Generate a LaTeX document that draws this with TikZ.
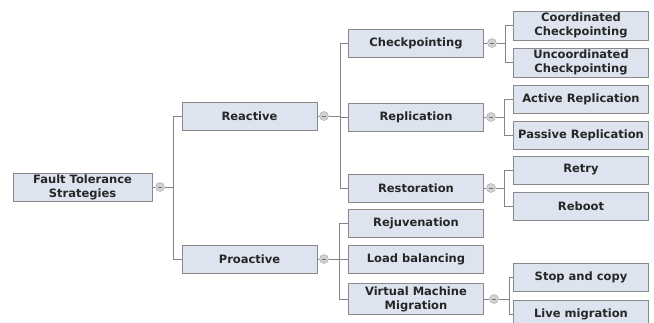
\documentclass[tikz,border=0pt]{standalone}
\usepackage{fontspec}
\setmainfont{DejaVu Sans}
\usetikzlibrary{positioning}

\definecolor{boxfill}{HTML}{DEE4EF}
\definecolor{boxline}{HTML}{8A8A8A}
\definecolor{wirecol}{HTML}{858585}
\definecolor{labelcol}{HTML}{262626}

\tikzset{
  ftbox/.style={draw=boxline, fill=boxfill, line width=1pt, minimum width=135pt,
    minimum height=28pt, inner sep=0pt, align=center, text=labelcol,
    font=\fontsize{11.5}{14}\selectfont\bfseries},
  fold/.style={circle, draw=gray!70, fill=gray!35, minimum size=9pt, inner sep=0pt,
    path picture={\draw[gray!90!black, line width=0.8pt]
      ([xshift=-2.2pt]path picture bounding box.center) -- ([xshift=2.2pt]path picture bounding box.center);}},
  wire/.style={draw=wirecol, line width=0.8pt}
}

\begin{document}
\begin{tikzpicture}[x=1pt, y=-1pt]
            \clip (0, 0) rectangle (654, 322);

            \node[ftbox, minimum width=139pt] (root) at (82.5, 187) {Fault Tolerance\\Strategies};
            \node[ftbox] (reactive) at (249.5, 116) {Reactive};
            \node[ftbox] (proactive) at (249.5, 259) {Proactive};
            \node[ftbox] (checkpointing) at (416, 43) {Checkpointing};
            \node[ftbox] (replication) at (416, 117) {Replication};
            \node[ftbox] (restoration) at (416, 188) {Restoration};
            \node[ftbox] (rejuvenation) at (416, 223) {Rejuvenation};
            \node[ftbox] (loadbalancing) at (416, 259) {Load balancing};
            \node[ftbox, minimum height=31pt] (vmmigration) at (416, 299) {Virtual Machine\\Migration};
            \node[ftbox, minimum height=29pt] (coordinated) at (581, 25.5) {Coordinated\\Checkpointing};
            \node[ftbox, minimum height=29pt] (uncoordinated) at (581, 62.5) {Uncoordinated\\Checkpointing};
            \node[ftbox] (activerep) at (581, 99) {Active Replication};
            \node[ftbox] (passiverep) at (581, 135) {Passive Replication};
            \node[ftbox] (retry) at (581, 170) {Retry};
            \node[ftbox] (reboot) at (581, 206) {Reboot};
            \node[ftbox] (stopcopy) at (581, 277) {Stop and copy};
            \node[ftbox] (livemigration) at (581, 314) {Live migration};

            \node[fold] (rootfold) at (160, 187) {};
            \node[fold] (reactivefold) at (324, 116) {};
            \node[fold] (proactivefold) at (324, 259) {};
            \node[fold] (checkfold) at (492, 43) {};
            \node[fold] (replfold) at (491, 117) {};
            \node[fold] (restfold) at (491, 188) {};
            \node[fold] (vmmfold) at (494, 299) {};

            \coordinate (rootspine) at (173, 187);
            \coordinate (reactivespine) at (340, 116);
            \coordinate (proactivespine) at (339, 259);
            \coordinate (checkspine) at (505, 43);
            \coordinate (replspine) at (504, 117);
            \coordinate (restspine) at (504, 188);
            \coordinate (vmmspine) at (509, 299);

            \draw[wire] (root) -- (rootfold);
            \draw[wire] (reactive) -- (reactivefold);
            \draw[wire] (proactive) -- (proactivefold);
            \draw[wire] (checkpointing) -- (checkfold);
            \draw[wire] (replication) -- (replfold);
            \draw[wire] (restoration) -- (restfold);
            \draw[wire] (vmmigration) -- (vmmfold);

            \draw[wire] (rootfold) -- (rootspine);
            \draw[wire] (reactivefold) -- (reactivespine);
            \draw[wire] (proactivefold) -- (proactivespine);
            \draw[wire] (checkfold) -- (checkspine);
            \draw[wire] (replfold) -- (replspine);
            \draw[wire] (restfold) -- (restspine);
            \draw[wire] (vmmfold) -- (vmmspine);

            \draw[wire] (rootspine) |- (reactive);
            \draw[wire] (rootspine) |- (proactive);
            \draw[wire] (reactivespine) |- (checkpointing);
            \draw[wire] (reactivespine) |- (replication);
            \draw[wire] (reactivespine) |- (restoration);
            \draw[wire] (proactivespine) |- (rejuvenation);
            \draw[wire] (proactivespine) |- (loadbalancing);
            \draw[wire] (proactivespine) |- (vmmigration);
            \draw[wire] (checkspine) |- (coordinated);
            \draw[wire] (checkspine) |- (uncoordinated);
            \draw[wire] (replspine) |- (activerep);
            \draw[wire] (replspine) |- (passiverep);
            \draw[wire] (restspine) |- (retry);
            \draw[wire] (restspine) |- (reboot);
            \draw[wire] (vmmspine) |- (stopcopy);
            \draw[wire] (vmmspine) |- (livemigration);
        \end{tikzpicture}
\end{document}
